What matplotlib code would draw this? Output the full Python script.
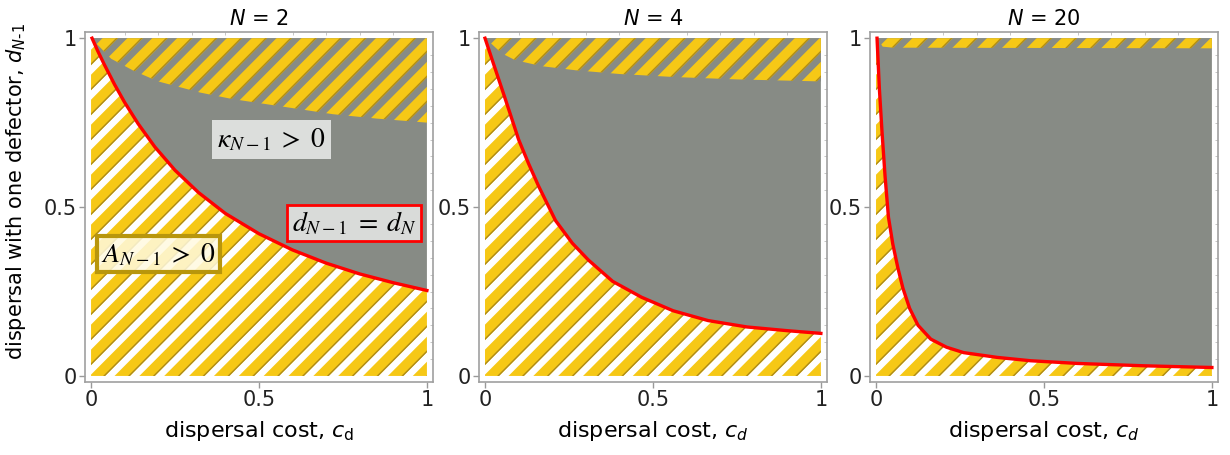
import matplotlib.pyplot as plt
import numpy as np
from matplotlib.patches import Polygon
from matplotlib.collections import PolyCollection, LineCollection

plt.rcParams['font.family'] = ['DejaVu Sans']

# group sizes shown in the three panels
group_sizes = [2, 4, 20]

# boundary d_{N-1} = d_N (red curve), one pair of lists per panel
cost_eq_2 = [0.003, 0.02, 0.04, 0.07, 0.1, 0.14, 0.19, 0.25, 0.32, 0.4, 0.5, 0.6, 0.7, 0.8, 0.9, 1.0]
disp_eq_2 = [1.0, 0.962, 0.921, 0.863, 0.81, 0.747, 0.678, 0.609, 0.543, 0.481, 0.421, 0.373,
             0.334, 0.302, 0.276, 0.253]
cost_eq_4 = [0.0, 0.025, 0.05, 0.075, 0.1, 0.13, 0.16, 0.21, 0.26, 0.308, 0.38, 0.466, 0.56,
             0.664, 0.78, 0.9, 1.0]
disp_eq_4 = [1.0, 0.925, 0.851, 0.776, 0.70, 0.628, 0.561, 0.46, 0.393, 0.343, 0.28, 0.233,
             0.193, 0.164, 0.145, 0.134, 0.126]
cost_eq_20 = [0.003, 0.01, 0.018, 0.027, 0.037, 0.05, 0.065, 0.08, 0.1, 0.125, 0.163, 0.21,
              0.261, 0.36, 0.46, 0.6, 0.8, 1.0]
disp_eq_20 = [1.0, 0.85, 0.72, 0.59, 0.47, 0.39, 0.32, 0.26, 0.2, 0.15, 0.109, 0.085, 0.069,
              0.055, 0.045, 0.037, 0.03, 0.025]

# boundary of kappa_{N-1} > 0 (top hatched band)
cost_kap_2 = [0.0, 0.02, 0.06, 0.126, 0.2, 0.325, 0.42, 0.52, 0.62, 0.72, 0.85, 1.0]
disp_kap_2 = [1.0, 0.98, 0.939, 0.904, 0.872, 0.839, 0.82, 0.805, 0.79, 0.775, 0.762, 0.75]
cost_kap_4 = [0.0, 0.012, 0.05, 0.09, 0.17, 0.27, 0.4, 0.565, 0.75, 1.0]
disp_kap_4 = [1.0, 0.99, 0.955, 0.935, 0.917, 0.905, 0.894, 0.885, 0.878, 0.872]
cost_kap_20 = [0.003, 0.02, 0.05, 1.0]
disp_kap_20 = [1.0, 0.975, 0.972, 0.97]

eq_curves = [(cost_eq_2, disp_eq_2), (cost_eq_4, disp_eq_4), (cost_eq_20, disp_eq_20)]
kap_curves = [(cost_kap_2, disp_kap_2), (cost_kap_4, disp_kap_4), (cost_kap_20, disp_kap_20)]
xlabels = [r'dispersal cost, $c_\mathrm{d}$', r'dispersal cost, $c_d$', r'dispersal cost, $c_d$']

grey = '#878b85'
yellow = '#f6c816'
stripe_edge = '#ad8b1a'
period, band = 0.074, 0.046


def hatched(ax, pts, bg, z):
    patch = Polygon(pts, closed=True, facecolor=bg, edgecolor='none', zorder=z)
    ax.add_patch(patch)
    ks = np.arange(-1.3, 1.3, period)
    bands = [[(-0.1, -0.1 + k), (1.1, 1.1 + k), (1.1, 1.1 + k + band), (-0.1, -0.1 + k + band)] for k in ks]
    pc = PolyCollection(bands, facecolors=yellow, edgecolors='none', zorder=z + 0.1)
    ax.add_collection(pc)
    pc.set_clip_path(patch)
    edges = [[(-0.1, -0.1 + k + 0.003), (1.1, 1.1 + k + 0.003)] for k in ks]
    lc = LineCollection(edges, colors=stripe_edge, linewidths=1.0, zorder=z + 0.2)
    ax.add_collection(lc)
    lc.set_clip_path(patch)


fig = plt.figure(figsize=(12.3, 4.55), dpi=100)
lefts = [0.0691, 0.3894, 0.7073]

for i, n in enumerate(group_sizes):
    ax = fig.add_axes([lefts[i], 0.1604, 0.2829, 0.769])
    c, d = eq_curves[i]
    ck, dk = kap_curves[i]
    eq_pts = list(zip(c, d))

    # below the red curve: yellow/white stripes
    hatched(ax, [(0, 0), (0, 1)] + eq_pts + [(1, 0)], 'white', 1)
    # above the red curve: grey
    ax.add_patch(Polygon(eq_pts + [(1, 1)], closed=True, facecolor=grey, edgecolor='none', zorder=1.5))
    # top band: yellow stripes over grey
    hatched(ax, list(zip(ck, dk)) + [(1, 1)], grey, 2)

    ax.plot(c, d, color='red', lw=2.4, zorder=5, solid_joinstyle='round')

    ax.set_xlim(-0.018, 1.018)
    ax.set_ylim(-0.018, 1.018)
    ax.set_xticks([0, 0.5, 1])
    ax.set_xticklabels(['0', '0.5', '1'])
    ax.set_yticks([0, 0.5, 1])
    ax.set_yticklabels(['0', '0.5', '1'])
    ax.set_xticks(np.arange(0, 1.01, 0.1), minor=True)
    ax.set_yticks(np.arange(0, 1.01, 0.05), minor=True)
    ax.tick_params(which='major', direction='out', length=4, width=1, color='#999999',
                   labelsize=15, labelcolor='#222222', pad=2)
    ax.tick_params(which='minor', left=False, bottom=False, right=True, top=True,
                   direction='in', length=2, width=0.6, color='#bbbbbb')
    for s in ax.spines.values():
        s.set_color('#a0a0a0')
        s.set_linewidth(1.2)

    ax.set_title(r'$N$ = %d' % n, fontsize=15, pad=5)
    ax.set_xlabel(xlabels[i], fontsize=16, labelpad=6)

    if i == 0:
        ax.set_ylabel(r'dispersal with one defector, $d_{N\text{-}1}$', fontsize=15)
        ax.yaxis.set_label_coords(-0.165, 0.545)
        ax.text(0.537, 0.70, r'$\kappa_{N-1}\;>\;0$', math_fontfamily='stix', fontsize=20,
                ha='center', va='center', zorder=6,
                bbox=dict(boxstyle='square,pad=0.2', fc='#dcdedc', ec='none'))
        ax.text(0.783, 0.453, r'$d_{N-1}\;=\;d_N$', math_fontfamily='stix', fontsize=20,
                ha='center', va='center', zorder=6,
                bbox=dict(boxstyle='square,pad=0.15', fc='#d9dbd9', ec='red', lw=2))
        ax.text(0.20, 0.361, r'$A_{N-1}\;>\;0$', math_fontfamily='stix', fontsize=20,
                ha='center', va='center', zorder=6,
                bbox=dict(boxstyle='square,pad=0.15', fc=(1.0, 0.98, 0.88, 0.85), ec='#b8960c', lw=3))

fig.savefig('out.png', dpi=100)
